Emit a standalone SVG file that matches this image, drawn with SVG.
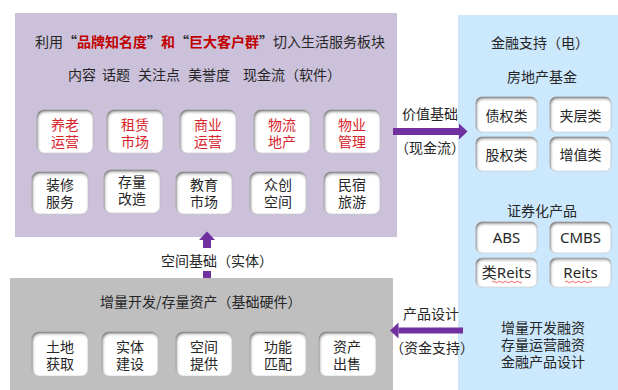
<svg xmlns="http://www.w3.org/2000/svg" width="618" height="390" viewBox="0 0 618 390">
<defs>
<filter id="bevel" x="-10%" y="-10%" width="120%" height="120%">
<feFlood flood-color="#5e5e5e"/>
<feComposite in2="SourceAlpha" operator="out"/>
<feGaussianBlur stdDeviation="1.8"/>
<feOffset dx="1" dy="1.8"/>
<feComposite in2="SourceAlpha" operator="in" result="sh"/>
<feMerge><feMergeNode in="SourceGraphic"/><feMergeNode in="sh"/></feMerge>
</filter>
<marker id="head" markerUnits="userSpaceOnUse" markerWidth="9" markerHeight="17" refX="0" refY="8" orient="auto" viewBox="0 0 9 16">
<path d="M0,0 L8.5,8 L0,16 z" fill="#7030A0"/>
</marker>
</defs>
<style>
.t{font-family:"Noto Sans CJK SC","Microsoft YaHei",sans-serif;font-size:14px;fill:#262626}
.r{fill:#D8232A}
.bx{fill:#fff;stroke:#d0d0d0;stroke-width:0.6;filter:url(#bevel)}
.lat{font-family:"Noto Sans","Noto Sans CJK SC",sans-serif;font-size:15px;fill:#262626}
.c{text-anchor:middle}
.ar{stroke:#7030A0;fill:none}
</style>
<rect id="panel-soft" x="15" y="13" width="382" height="224" fill="#CCC1DA"/>
<rect id="panel-hard" x="10" y="278" width="383" height="112" fill="#BFBFBF"/>
<rect id="panel-fin" x="458" y="15" width="160" height="375" fill="#CCE8FC"/>

<g id="soft-title">
<text class="t" y="47"><tspan x="35">利用</tspan><tspan x="63" font-weight="bold">“</tspan><tspan font-weight="bold" fill="#C00000">品牌知名度</tspan><tspan font-weight="bold">”</tspan><tspan x="161" font-weight="bold" fill="#C00000">和</tspan><tspan x="175" font-weight="bold">“</tspan><tspan font-weight="bold" fill="#C00000">巨大客户群</tspan><tspan font-weight="bold">”</tspan><tspan x="273">切入生活服务板块</tspan></text>
<text class="t" y="80"><tspan x="68">内容</tspan><tspan x="102">话题</tspan><tspan x="138">关注点</tspan><tspan x="188">美誉度</tspan><tspan x="243">现金流（软件）</tspan></text>
</g>

<g id="n-yanglao"><rect class="bx" x="37" y="110" width="56" height="43" rx="7"/><text class="t r c"><tspan x="65" y="130">养老</tspan><tspan x="65" y="147">运营</tspan></text></g>
<g id="n-zulin"><rect class="bx" x="107" y="110" width="56" height="43" rx="7"/><text class="t r c"><tspan x="135" y="130">租赁</tspan><tspan x="135" y="147">市场</tspan></text></g>
<g id="n-shangye"><rect class="bx" x="180" y="110" width="56" height="43" rx="7"/><text class="t r c"><tspan x="208" y="130">商业</tspan><tspan x="208" y="147">运营</tspan></text></g>
<g id="n-wuliu"><rect class="bx" x="254" y="110" width="56" height="43" rx="7"/><text class="t r c"><tspan x="282" y="130">物流</tspan><tspan x="282" y="147">地产</tspan></text></g>
<g id="n-wuye"><rect class="bx" x="324" y="110" width="56" height="43" rx="7"/><text class="t r c"><tspan x="352" y="130">物业</tspan><tspan x="352" y="147">管理</tspan></text></g>

<g id="n-zhuangxiu"><rect class="bx" x="32" y="172" width="56" height="42" rx="7"/><text class="t c"><tspan x="60" y="190">装修</tspan><tspan x="60" y="207">服务</tspan></text></g>
<g id="n-cunliang"><rect class="bx" x="104" y="170" width="56" height="43" rx="7"/><text class="t c"><tspan x="132" y="187">存量</tspan><tspan x="132" y="204">改造</tspan></text></g>
<g id="n-jiaoyu"><rect class="bx" x="176" y="172" width="56" height="42" rx="7"/><text class="t c"><tspan x="204" y="190">教育</tspan><tspan x="204" y="207">市场</tspan></text></g>
<g id="n-zhongchuang"><rect class="bx" x="250" y="172" width="56" height="42" rx="7"/><text class="t c"><tspan x="278" y="190">众创</tspan><tspan x="278" y="207">空间</tspan></text></g>
<g id="n-minsu"><rect class="bx" x="324" y="172" width="56" height="42" rx="7"/><text class="t c"><tspan x="352" y="190">民宿</tspan><tspan x="352" y="207">旅游</tspan></text></g>

<g id="hard-title"><text class="t" x="100" y="307">增量开发/存量资产（基础硬件）</text></g>
<g id="n-tudi"><rect class="bx" x="32" y="332" width="56" height="44" rx="7"/><text class="t c"><tspan x="60" y="352">土地</tspan><tspan x="60" y="369">获取</tspan></text></g>
<g id="n-shiti"><rect class="bx" x="102" y="332" width="56" height="44" rx="7"/><text class="t c"><tspan x="130" y="352">实体</tspan><tspan x="130" y="369">建设</tspan></text></g>
<g id="n-kongjian"><rect class="bx" x="176" y="332" width="56" height="44" rx="7"/><text class="t c"><tspan x="204" y="352">空间</tspan><tspan x="204" y="369">提供</tspan></text></g>
<g id="n-gongneng"><rect class="bx" x="250" y="332" width="56" height="44" rx="7"/><text class="t c"><tspan x="278" y="352">功能</tspan><tspan x="278" y="369">匹配</tspan></text></g>
<g id="n-zichan"><rect class="bx" x="319" y="332" width="57" height="44" rx="7"/><text class="t c"><tspan x="347" y="352">资产</tspan><tspan x="347" y="369">出售</tspan></text></g>

<g id="fin-title">
<text class="t c" x="540" y="48">金融支持（电）</text>
<text class="t c" x="542" y="82">房地产基金</text>
<text class="t c" x="542" y="216">证券化产品</text>
<text class="t c"><tspan x="543" y="333">增量开发融资</tspan><tspan x="543" y="350">存量运营融资</tspan><tspan x="543" y="367">金融产品设计</tspan></text>
</g>
<g id="n-zhaiquan"><rect class="bx" x="476" y="97" width="61" height="35" rx="6"/><text class="t c" x="506.5" y="121">债权类</text></g>
<g id="n-jiaceng"><rect class="bx" x="550" y="97" width="61" height="35" rx="6"/><text class="t c" x="580.5" y="121">夹层类</text></g>
<g id="n-guquan"><rect class="bx" x="476" y="137" width="61" height="34" rx="6"/><text class="t c" x="506.5" y="160">股权类</text></g>
<g id="n-zengzhi"><rect class="bx" x="550" y="137" width="61" height="34" rx="6"/><text class="t c" x="580.5" y="160">增值类</text></g>
<g id="n-abs"><rect class="bx" x="476" y="222" width="61" height="31" rx="6"/><text class="lat c" x="506.5" y="243">ABS</text></g>
<g id="n-cmbs"><rect class="bx" x="550" y="222" width="61" height="31" rx="6"/><text class="lat c" x="580.5" y="243">CMBS</text></g>
<g id="n-leireits"><rect class="bx" x="476" y="258" width="61" height="29" rx="6"/><text class="lat c" x="506.5" y="278">类Reits</text><path d="M492,282 q1.5,-1.5 3,0 t3,0 t3,0 t3,0 t3,0 t3,0 t3,0 t3,0 t3,0 t3,0" stroke="#E33" stroke-width="0.8" fill="none"/></g>
<g id="n-reits"><rect class="bx" x="550" y="258" width="61" height="29" rx="6"/><text class="lat c" x="580.5" y="278">Reits</text><path d="M565,282 q1.5,-1.5 3,0 t3,0 t3,0 t3,0 t3,0 t3,0 t3,0 t3,0 t3,0" stroke="#E33" stroke-width="0.8" fill="none"/></g>

<g id="connectors">
<line class="ar" x1="393" y1="131.5" x2="459" y2="131.5" stroke-width="7" marker-end="url(#head)"/>
<line class="ar" x1="207" y1="278" x2="207" y2="271" stroke-width="8"/>
<line class="ar" x1="207" y1="248" x2="207" y2="240" stroke-width="8" marker-end="url(#head)"/>
<line class="ar" x1="463" y1="330.5" x2="398.5" y2="330.5" stroke-width="6" marker-end="url(#head)"/>
<text class="t c" x="430" y="119">价值基础</text>
<text class="t c" x="430" y="153">（现金流）</text>
<text class="t c" x="217" y="266">空间基础（实体）</text>
<text class="t c" x="431" y="319">产品设计</text>
<text class="t c" x="432" y="353">（资金支持）</text>
</g>
</svg>
